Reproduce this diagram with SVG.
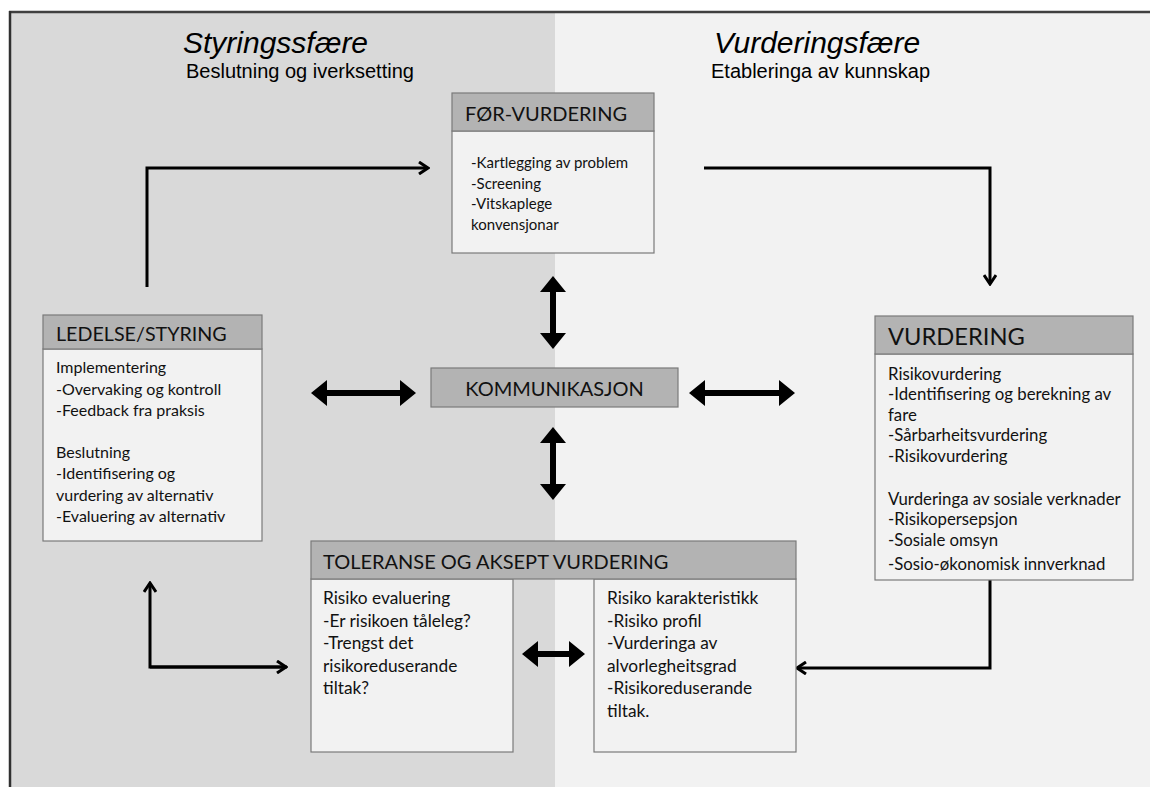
<svg xmlns="http://www.w3.org/2000/svg" width="1150" height="787" viewBox="0 0 1150 787">
<style>
.title{font-family:"Liberation Sans",Arial,sans-serif;font-style:italic;font-size:30px;fill:#000}
.sub{font-family:"Liberation Sans",Arial,sans-serif;font-size:20px;fill:#000}
.hdr{fill:#b3b3b3;stroke:#7a7a7a;stroke-width:1.2}
.body{fill:#f2f2f2;stroke:#7a7a7a;stroke-width:1.2}
.ht{font-family:Lato,"Open Sans",sans-serif;fill:#111}
.bt{font-family:Lato,"Open Sans",sans-serif;fill:#111}
.conn{fill:none;stroke:#000;stroke-width:3;stroke-linejoin:miter}
.fat{fill:#000}
</style>
<defs>
<marker id="chev" viewBox="0 0 12 14" refX="10" refY="7" markerWidth="12" markerHeight="14" markerUnits="userSpaceOnUse" orient="auto">
<path d="M1,1 L10,7 L1,13" fill="none" stroke="#000" stroke-width="3"/>
</marker>
</defs>
<rect x="0" y="0" width="1150" height="787" fill="#ffffff"/>
<rect x="10" y="12" width="545" height="775" fill="#d9d9d9"/>
<rect x="555" y="12" width="595" height="775" fill="#f2f2f2"/>
<line x1="9" y1="12" x2="1150" y2="12" stroke="#404040" stroke-width="2.5"/>
<line x1="10" y1="11" x2="10" y2="787" stroke="#303030" stroke-width="2.5"/>
<text class="title" x="183" y="53">Styringssfære</text>
<text class="sub" x="186" y="78">Beslutning og iverksetting</text>
<text class="title" x="714" y="53">Vurderingsfære</text>
<text class="sub" x="711" y="78">Etableringa av kunnskap</text>

<g id="connectors">
<path class="conn" d="M147,287 L147,168 L428,168" marker-end="url(#chev)"/>
<path class="conn" d="M704,168 L990,168 L990,284" marker-end="url(#chev)"/>
<path class="conn" d="M990,580 L990,668 L797,668" marker-end="url(#chev)"/>
<path class="conn" d="M287,667 L150,667 L150,583" marker-end="url(#chev)"/>
<path class="conn" d="M150,667 L286,667" marker-end="url(#chev)"/>
<polygon class="fat" points="553,276 566,292 556,292 556,333 566,333 553,349 540,333 550,333 550,292 540,292"/>
<polygon class="fat" points="553,427 566,443 556,443 556,484 566,484 553,500 540,484 550,484 550,443 540,443"/>
<polygon class="fat" points="311,393 327,380 327,390 400,390 400,380 416,393 400,406 400,396 327,396 327,406"/>
<polygon class="fat" points="689,393 705,380 705,390 779,390 779,380 795,393 779,406 779,396 705,396 705,406"/>
<polygon class="fat" points="522,654 538,641 538,651 569,651 569,641 585,654 569,667 569,657 538,657 538,667"/>
</g>

<g id="for-vurdering">
<rect class="body" x="452" y="131" width="202" height="122"/>
<rect class="hdr" x="452" y="93" width="202" height="38"/>
<text class="ht" x="465" y="121" font-size="20">FØR-VURDERING</text>
<text class="bt" font-size="15">
<tspan x="471" y="168">-Kartlegging av problem</tspan>
<tspan x="471" y="189">-Screening</tspan>
<tspan x="471" y="209">-Vitskaplege</tspan>
<tspan x="471" y="230">konvensjonar</tspan>
</text>
</g>

<g id="ledelse-styring">
<rect class="body" x="43" y="349" width="219" height="192"/>
<rect class="hdr" x="43" y="315" width="219" height="34"/>
<text class="ht" x="56" y="341" font-size="19.7">LEDELSE/STYRING</text>
<text class="bt" font-size="16">
<tspan x="56" y="373">Implementering</tspan>
<tspan x="56" y="395">-Overvaking og kontroll</tspan>
<tspan x="56" y="416">-Feedback fra praksis</tspan>
<tspan x="56" y="458">Beslutning</tspan>
<tspan x="56" y="479">-Identifisering og</tspan>
<tspan x="56" y="501">vurdering av alternativ</tspan>
<tspan x="56" y="522">-Evaluering av alternativ</tspan>
</text>
</g>

<g id="kommunikasjon">
<rect class="hdr" x="431" y="368" width="247" height="39"/>
<text class="ht" x="554.5" y="396" font-size="20" text-anchor="middle">KOMMUNIKASJON</text>
</g>

<g id="vurdering">
<rect class="body" x="875" y="354" width="258" height="226"/>
<rect class="hdr" x="875" y="316" width="258" height="38"/>
<text class="ht" x="888" y="345" font-size="23.7">VURDERING</text>
<text class="bt" font-size="16.8">
<tspan x="888" y="380">Risikovurdering</tspan>
<tspan x="888" y="400">-Identifisering og berekning av</tspan>
<tspan x="888" y="421">fare</tspan>
<tspan x="888" y="441">-Sårbarheitsvurdering</tspan>
<tspan x="888" y="462">-Risikovurdering</tspan>
<tspan x="888" y="505">Vurderinga av sosiale verknader</tspan>
<tspan x="888" y="525">-Risikopersepsjon</tspan>
<tspan x="888" y="546">-Sosiale omsyn</tspan>
<tspan x="888" y="570">-Sosio-økonomisk innverknad</tspan>
</text>
</g>

<g id="toleranse">
<rect class="body" x="311" y="579" width="202" height="173"/>
<rect class="body" x="594" y="579" width="202" height="173"/>
<rect class="hdr" x="311" y="541" width="485" height="38"/>
<text class="ht" x="323" y="569" font-size="20">TOLERANSE OG AKSEPT VURDERING</text>
<text class="bt" font-size="17.3">
<tspan x="323" y="604">Risiko evaluering</tspan>
<tspan x="323" y="627">-Er risikoen tåleleg?</tspan>
<tspan x="323" y="649">-Trengst det</tspan>
<tspan x="323" y="672">risikoreduserande</tspan>
<tspan x="323" y="694">tiltak?</tspan>
</text>
<text class="bt" font-size="17.3">
<tspan x="607" y="604">Risiko karakteristikk</tspan>
<tspan x="607" y="627">-Risiko profil</tspan>
<tspan x="607" y="649">-Vurderinga av</tspan>
<tspan x="607" y="672">alvorlegheitsgrad</tspan>
<tspan x="607" y="694">-Risikoreduserande</tspan>
<tspan x="607" y="717">tiltak.</tspan>
</text>
</g>
</svg>
